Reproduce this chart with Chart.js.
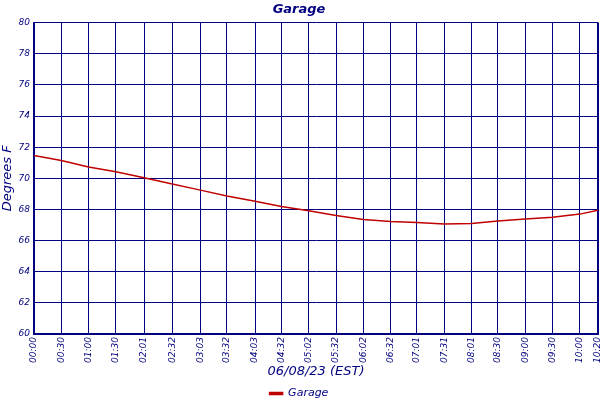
<!DOCTYPE html>
<html>
<head>
<meta charset="utf-8">
<script src="https://cdn.jsdelivr.net/npm/chart.js@4"></script>
<style>
html,body{margin:0;padding:0;background:#fff;}
#wrap{width:600px;height:400px;}
</style>
</head>
<body>
<div id="wrap"><canvas id="c" width="600" height="400"></canvas></div>
<script>
const tickLabels = ['00:00','00:30','01:00','01:30','02:01','02:32','03:03','03:32','04:03','04:32','05:02','05:32','06:02','06:32','07:01','07:31','08:01','08:30','09:00','09:30','10:00','10:20'];
const tickMinutes = [0,30,60,90,121,152,183,212,243,272,302,332,362,392,421,451,481,510,540,570,600,620];
const sampleMinutes = [0,30,60,90,121,152,183,212,243,272,302,332,362,392,421,451,481,510,540,570,600,620];
const garageTemps = [71.46,71.14,70.73,70.42,70.04,69.64,69.24,68.87,68.53,68.19,67.91,67.61,67.36,67.22,67.16,67.07,67.10,67.25,67.38,67.50,67.70,67.95];

const navy = '#000080';
const lineRed = '#c00000';
const fam = '"DejaVu Sans", sans-serif';

const points = sampleMinutes.map((m, i) => ({x: m, y: garageTemps[i]}));

new Chart(document.getElementById('c'), {
  type: 'line',
  data: {
    datasets: [{
      label: 'Garage',
      data: points,
      borderColor: lineRed,
      backgroundColor: lineRed,
      borderWidth: 1.5,
      pointRadius: 0,
      tension: 0,
      fill: false
    }]
  },
  options: {
    responsive: false,
    animation: false,
    devicePixelRatio: 1,
    layout: {padding: {left: 0, right: 2, top: 1, bottom: -9}},
    plugins: {
      title: {
        display: true,
        text: 'Garage',
        color: navy,
        font: {family: fam, size: 13, style: 'italic', weight: 'bold'},
        padding: {top: 1, bottom: 5}
      },
      legend: {
        display: true,
        position: 'bottom',
        labels: {
          color: navy,
          font: {family: fam, size: 11, style: 'italic'},
          boxWidth: 13,
          boxHeight: 2,
          padding: 1
        }
      },
      tooltip: {enabled: false}
    },
    scales: {
      x: {
        type: 'linear',
        min: 0,
        max: 620,
        afterBuildTicks: (s) => { s.ticks = tickMinutes.map(v => ({value: v})); },
        afterFit: (s) => { s.paddingLeft = 0; s.paddingRight = 0; s.height = 53; },
        ticks: {
          autoSkip: false,
          minRotation: 90,
          maxRotation: 90,
          padding: 3,
          color: navy,
          font: {family: fam, size: 9, style: 'italic'},
          callback: (v) => { const i = tickMinutes.indexOf(v); return i >= 0 ? tickLabels[i] : ''; }
        },
        grid: {
          color: navy,
          lineWidth: (ctx) => (ctx.index === tickMinutes.length - 1 ? 2 : 1),
          drawTicks: false
        },
        border: {color: navy, width: 2},
        title: {
          display: true,
          text: '06/08/23 (EST)',
          color: navy,
          font: {family: fam, size: 13, style: 'italic'},
          padding: {top: 0, bottom: 8}
        }
      },
      y: {
        min: 60,
        max: 80,
        afterFit: (s) => { s.width = 34; },
        ticks: {
          stepSize: 2,
          padding: 4,
          color: navy,
          font: {family: fam, size: 9, style: 'italic'}
        },
        grid: {color: navy, lineWidth: 1, drawTicks: false},
        border: {color: navy, width: 2},
        title: {
          display: true,
          text: 'Degrees F',
          color: navy,
          font: {family: fam, size: 13, style: 'italic'},
          padding: {top: 0, bottom: 0}
        }
      }
    }
  }
});
</script>
</body>
</html>
